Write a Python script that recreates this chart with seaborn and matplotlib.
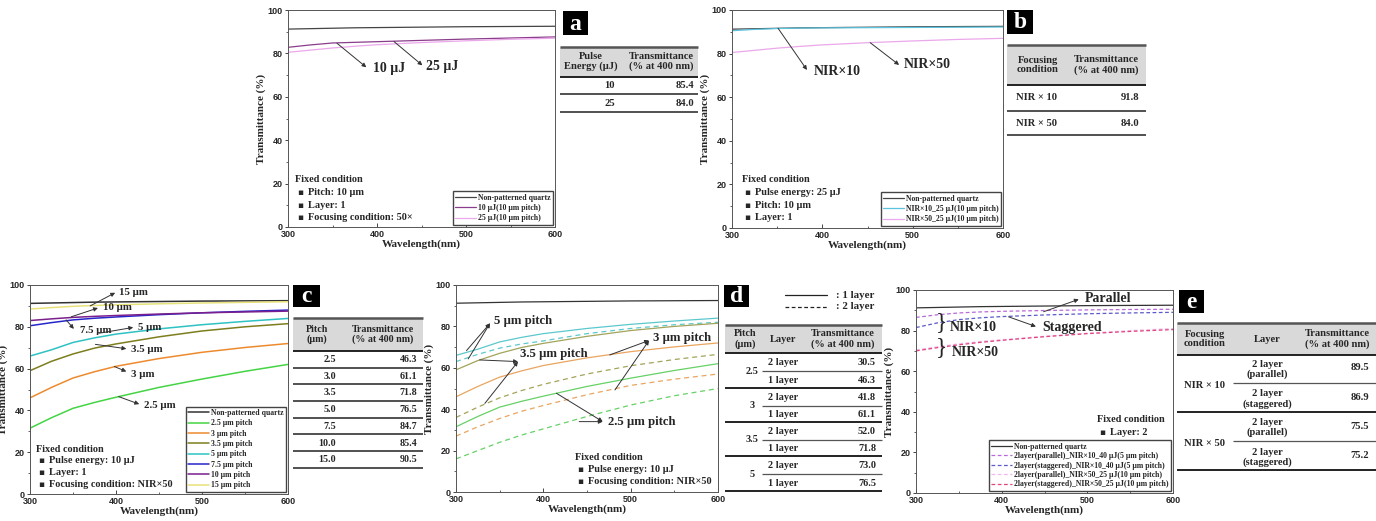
import matplotlib
matplotlib.use('Agg')
import matplotlib.pyplot as plt
import seaborn as sns
from matplotlib.patches import Rectangle
from matplotlib.ticker import MultipleLocator

sns.set_style('ticks')
plt.rcParams['font.family'] = ['Liberation Sans', 'DejaVu Sans']
plt.rcParams['font.weight'] = 'bold'
SERIF = ['Liberation Serif', 'DejaVu Serif', 'DejaVu Sans']

# ---------------- data ----------------
wl = [300, 325, 350, 375, 400, 450, 500, 550, 600]

quartz = [91.2, 91.4, 91.6, 91.8, 91.9, 92.1, 92.3, 92.4, 92.5]

# (a) pulse energy
a_10uj = [82.8, 83.9, 84.8, 85.1, 85.4, 86.0, 86.6, 87.1, 87.6]
a_25uj = [80.5, 81.5, 82.5, 83.3, 84.0, 85.0, 85.8, 86.5, 87.0]

# (b) focusing condition
b_nir10 = [90.5, 91.1, 91.5, 91.7, 91.8, 91.9, 92.0, 92.1, 92.2]
b_nir50 = [80.5, 81.5, 82.5, 83.3, 84.0, 85.0, 85.8, 86.5, 87.0]

# (c) pitch, 1 layer
c_2_5 = [31.5, 36.5, 41.0, 43.8, 46.3, 51.0, 55.0, 58.7, 62.0]
c_3 = [46.0, 51.0, 55.5, 58.5, 61.1, 64.8, 67.8, 70.1, 72.0]
c_3_5 = [59.0, 63.5, 67.0, 69.8, 71.8, 75.2, 78.0, 80.0, 81.5]
c_5 = [66.0, 69.0, 72.5, 74.7, 76.5, 79.0, 81.0, 82.6, 84.0]
c_7_5 = [80.5, 82.0, 83.3, 84.1, 84.7, 85.8, 86.7, 87.4, 88.0]
c_10 = [83.0, 83.8, 84.5, 85.0, 85.4, 86.1, 86.7, 87.1, 87.5]
c_15 = [88.5, 89.2, 89.8, 90.2, 90.5, 91.0, 91.4, 91.7, 92.0]

# (d) 2 layer
d2_2_5 = [16.0, 20.0, 24.0, 27.5, 30.5, 36.5, 42.0, 46.5, 50.0]
d2_3 = [27.0, 31.5, 35.5, 39.0, 41.8, 47.0, 51.5, 54.5, 57.0]
d2_3_5 = [36.0, 41.0, 45.5, 49.0, 52.0, 57.0, 61.0, 64.0, 66.5]
d2_5 = [63.0, 66.5, 69.5, 71.5, 73.0, 76.5, 79.0, 80.8, 82.0]

# (e) parallel / staggered
e_par10 = [86.5, 87.8, 88.7, 89.2, 89.5, 89.9, 90.2, 90.4, 90.5]
e_stg10 = [81.5, 83.8, 85.4, 86.3, 86.9, 87.7, 88.3, 88.7, 89.0]
e_par50 = [70.5, 72.0, 73.5, 74.6, 75.5, 77.2, 78.7, 80.0, 81.0]
e_stg50 = [70.0, 71.6, 73.0, 74.2, 75.2, 77.0, 78.5, 79.6, 80.5]

# table contents
tab_a_energy = ['10', '25']
tab_a_T = ['85.4', '84.0']
tab_b_cond = ['NIR × 10', 'NIR × 50']
tab_b_T = ['91.8', '84.0']
tab_c_pitch = ['2.5', '3.0', '3.5', '5.0', '7.5', '10.0', '15.0']
tab_c_T = ['46.3', '61.1', '71.8', '76.5', '84.7', '85.4', '90.5']
tab_d_pitch = ['2.5', '3', '3.5', '5']
tab_d_2layer = ['30.5', '41.8', '52.0', '73.0']
tab_d_1layer = ['46.3', '61.1', '71.8', '76.5']
tab_e_cond = ['NIR × 10', 'NIR × 50']
tab_e_layer = ['2 layer\n(parallel)', '2 layer\n(staggered)']
tab_e_T = ['89.5', '86.9', '75.5', '75.2']

# ---------------- figure ----------------
W, H = 1376, 521
fig = plt.figure(figsize=(W / 100, H / 100), dpi=100)


def rect(x0, y0, x1, y1):
    return [x0 / W, 1 - y1 / H, (x1 - x0) / W, (y1 - y0) / H]


def setup(ax):
    ax.set_xlim(300, 600)
    ax.set_ylim(0, 100)
    ax.set_xticks([300, 400, 500, 600])
    ax.set_yticks([0, 20, 40, 60, 80, 100])
    ax.xaxis.set_minor_locator(MultipleLocator(50))
    ax.yaxis.set_minor_locator(MultipleLocator(10))
    ax.tick_params(axis='x', which='major', direction='in', length=3, width=0.6, labelsize=6.5, pad=2)
    ax.tick_params(axis='x', which='minor', direction='in', length=1.5, width=0.5)
    ax.tick_params(axis='y', which='major', direction='out', length=2.5, width=0.6, labelsize=6.5, pad=1.5)
    ax.tick_params(axis='y', which='minor', direction='out', length=1.5, width=0.5)
    ax.set_xlabel('Wavelength(nm)', family=SERIF, fontsize=8, fontweight='bold', labelpad=0.5)
    ax.set_ylabel('Transmittance (%)', family=SERIF, fontsize=8, fontweight='bold', labelpad=1)
    for s in ax.spines.values():
        s.set_visible(True)
        s.set_linewidth(0.7)
        s.set_color('#555555')


def line(ax, y, color, label=None, ls='-', lw=0.9):
    sns.lineplot(x=wl, y=y, ax=ax, color=color, label=label, linestyle=ls, linewidth=lw,
                 legend=False)


def legend(ax, size=5.6, spacing=0.3):
    ax.legend(loc='lower right', prop=dict(family=SERIF, weight='bold', size=size), frameon=True,
              fancybox=False, edgecolor='#444444', framealpha=1, handlelength=2.7,
              borderpad=0.3, labelspacing=spacing, handletextpad=0.2, borderaxespad=0.3)


ARROW = dict(arrowstyle='-|>', color='#333333', lw=0.7, mutation_scale=6, shrinkA=0, shrinkB=0)


def note(ax, txt, tail, head, pos, size=10):
    ax.annotate('', xy=head, xytext=tail, arrowprops=ARROW)
    ax.text(pos[0], pos[1], txt, family=SERIF, fontweight='bold', fontsize=size, va='center', ha='left')


# ---- panel a ----
ax = fig.add_axes(rect(288, 10, 555, 227))
line(ax, quartz, '#444444', 'Non-patterned quartz')
line(ax, a_10uj, '#8B3D8B', '10 µJ(10 µm pitch)')
line(ax, a_25uj, '#EBA8EB', '25 µJ(10 µm pitch)')
setup(ax)
legend(ax)
note(ax, '10 µJ', (355, 84.7), (388, 73.6), (395, 73))
note(ax, '25 µJ', (419, 85.5), (451, 74.5), (455, 74))

# ---- panel b ----
ax = fig.add_axes(rect(732, 10, 1003, 228))
line(ax, quartz, '#444444', 'Non-patterned quartz')
line(ax, b_nir10, '#5BC3DE', 'NIR×10_25 µJ(10 µm pitch)')
line(ax, b_nir50, '#EBA8EB', 'NIR×50_25 µJ(10 µm pitch)')
setup(ax)
legend(ax)
note(ax, 'NIR×10', (351, 91.6), (383, 72.5), (390, 72))
note(ax, 'NIR×50', (453, 85.0), (485, 74.8), (490, 75))

# ---- panel c ----
ax = fig.add_axes(rect(30, 285, 288, 494))
line(ax, quartz, '#333333', 'Non-patterned quartz', lw=1.1)
line(ax, c_2_5, '#44D444', '2.5 µm pitch', lw=1.1)
line(ax, c_3, '#EE8A2E', '3 µm pitch', lw=1.1)
line(ax, c_3_5, '#7D7D1E', '3.5 µm pitch', lw=1.1)
line(ax, c_5, '#2EC2C2', '5 µm pitch', lw=1.1)
line(ax, c_7_5, '#2626CC', '7.5 µm pitch', lw=1.1)
line(ax, c_10, '#7A1F8C', '10 µm pitch', lw=1.1)
line(ax, c_15, '#E8E27A', '15 µm pitch', lw=1.1)
setup(ax)
legend(ax)
note(ax, '15 µm', (370, 90.0), (399, 96.3), (404, 96.2), 7.8)
note(ax, '10 µm', (348, 84.8), (379, 89.0), (385, 89.2), 7.8)
note(ax, '7.5 µm', (342, 83.3), (351, 79.0), (358, 78.3), 7.8)
note(ax, '5 µm', (380, 76.9), (420, 79.7), (426, 79.7), 7.8)
note(ax, '3.5 µm', (376, 71.6), (412, 69.5), (418, 68.9), 7.8)
note(ax, '3 µm', (398, 61.0), (412, 58.6), (418, 57.3), 7.8)
note(ax, '2.5 µm', (403, 46.6), (427, 43.0), (433, 42.2), 7.8)

# ---- panel d ----
ax = fig.add_axes(rect(456, 285, 718, 492))
DASH = (0, (4, 3))
line(ax, quartz, '#333333')
line(ax, c_5, '#5CC8CC')
line(ax, d2_5, '#5CC8CC', ls=DASH)
line(ax, c_3_5, '#A3A35A')
line(ax, d2_3_5, '#A3A35A', ls=DASH)
line(ax, c_3, '#EAA560')
line(ax, d2_3, '#EAA560', ls=DASH)
line(ax, c_2_5, '#66D166')
line(ax, d2_2_5, '#66D166', ls=DASH)
setup(ax)
for tail in [(312, 68.3), (314, 64.3)]:
    ax.annotate('', xy=(339, 81.5), xytext=tail, arrowprops=ARROW)
ax.text(344, 82.6, '5 µm pitch', family=SERIF, fontweight='bold', fontsize=9.2, va='center')
for tail in [(327, 63.8), (333, 42.8)]:
    ax.annotate('', xy=(371, 63.0), xytext=tail, arrowprops=ARROW)
ax.text(373, 66.5, '3.5 µm pitch', family=SERIF, fontweight='bold', fontsize=9.2, va='center')
for tail in [(476, 66.2), (482, 49.3)]:
    ax.annotate('', xy=(521, 73.2), xytext=tail, arrowprops=ARROW)
ax.text(526, 74.5, '3 µm pitch', family=SERIF, fontweight='bold', fontsize=9.2, va='center')
for tail in [(415, 47.7), (441, 34.0)]:
    ax.annotate('', xy=(468, 34.0), xytext=tail, arrowprops=ARROW)
ax.text(474, 34.0, '2.5 µm pitch', family=SERIF, fontweight='bold', fontsize=9.2, va='center')

# ---- panel e ----
ax = fig.add_axes(rect(916, 290, 1173, 493))
ED = (0, (3, 2))
line(ax, quartz, '#333333', 'Non-patterned quartz')
line(ax, e_par10, '#B86AD8', '2layer(parallel)_NIR×10_40 µJ(5 µm pitch)', ls=ED)
line(ax, e_stg10, '#5A5AC8', '2layer(staggered)_NIR×10_40 µJ(5 µm pitch)', ls=ED)
line(ax, e_par50, '#F2B8EC', '2layer(parallel)_NIR×50_25 µJ(10 µm pitch)', ls=ED)
line(ax, e_stg50, '#E2457E', '2layer(staggered)_NIR×50_25 µJ(10 µm pitch)', ls=ED)
setup(ax)
legend(ax, spacing=0.18)
note(ax, 'Parallel', (449, 89.3), (490, 95.4), (497, 95.9), 10)
note(ax, 'Staggered', (408, 86.8), (440, 82.0), (447, 81.4), 10)
ax.text(323, 84.0, '}', family=SERIF, fontsize=17, fontweight='normal', va='center', ha='left')
ax.text(323, 71.5, '}', family=SERIF, fontsize=17, fontweight='normal', va='center', ha='left')
ax.text(340, 81.5, 'NIR×10', family=SERIF, fontweight='bold', fontsize=10, va='center')
ax.text(342, 69.0, 'NIR×50', family=SERIF, fontweight='bold', fontsize=10, va='center')

# ---------------- overlay in pixel coordinates: tables, panel letters, notes ----------------
ov = fig.add_axes([0, 0, 1, 1])
ov.set_xlim(0, W)
ov.set_ylim(H, 0)
ov.axis('off')
ov.patch.set_alpha(0)


def t(x, y, s, size=7.6, ha='center', va='center', **kw):
    ov.text(x, y, s, family=SERIF, fontweight='bold', fontsize=size, ha=ha, va=va, **kw)


def hl(x0, x1, y, lw=1.2, c='#333333'):
    ov.plot([x0, x1], [y, y], color=c, lw=lw, solid_capstyle='butt')


def letter(x0, y0, x1, y1, s):
    ov.add_patch(Rectangle((x0, y0), x1 - x0, y1 - y0, fc='black', ec='none'))
    t((x0 + x1) / 2, (y0 + y1) / 2 + 1, s, size=17, color='white')


def header(x0, x1, y0, y1):
    ov.add_patch(Rectangle((x0, y0), x1 - x0, y1 - y0, fc='#D9D9D9', ec='none'))
    hl(x0, x1, y0, 1.8, '#555555')
    hl(x0, x1, y1, 1.4, '#222222')


def fixed(x, y, items, step=12.5, size=7.4):
    t(x, y, 'Fixed condition', size=size, ha='left')
    for i, it in enumerate(items):
        yy = y + step * (i + 1)
        ov.text(x + 2, yy, '▪', family=['DejaVu Sans'], fontsize=size - 1, ha='left', va='center')
        t(x + 13, yy, it, size=size, ha='left')


# table a
letter(563, 11, 588, 35, 'a')
header(560, 698, 46.5, 76.5)
t(591, 61.5, 'Pulse\nEnergy (µJ)', linespacing=1.1)
t(661, 61.5, 'Transmittance\n(% at 400 nm)', linespacing=1.1)
for i in range(2):
    yc = 85.5 + 18 * i
    t(615, yc, tab_a_energy[i], ha='right')
    t(694, yc, tab_a_T[i], ha='right')
    hl(560, 698, 94.3 + 18 * i, 1.2)
fixed(295, 180, ['Pitch: 10 µm', 'Layer: 1', 'Focusing condition: 50×'])

# table b
letter(1007, 10, 1033, 34, 'b')
header(1007, 1146, 45, 85)
t(1038, 65, 'Focusing\ncondition', linespacing=1.1)
t(1106, 65, 'Transmittance\n(% at 400 nm)', linespacing=1.1)
for i in range(2):
    yc = 98 + 25 * i
    t(1016, yc, tab_b_cond[i], ha='left')
    t(1139, yc, tab_b_T[i], ha='right')
    hl(1007, 1146, 110.7 + 24.5 * i, 1.2)
fixed(742, 180, ['Pulse energy: 25 µJ', 'Pitch: 10 µm', 'Layer: 1'])

# table c
letter(293, 285, 320, 307, 'c')
header(293, 423, 318, 351)
t(317, 334.5, 'Pitch\n(µm)', size=7.2, linespacing=1.1)
t(383, 334.5, 'Transmittance\n(% at 400 nm)', size=7.2, linespacing=1.1)
for i in range(7):
    yc = 359.5 + 16.7 * i
    t(336, yc, tab_c_pitch[i], size=7.2, ha='right')
    t(417, yc, tab_c_T[i], size=7.2, ha='right')
    hl(293, 423, 367.7 + 16.67 * i, 1.2)
fixed(36, 449, ['Pulse energy: 10 µJ', 'Layer: 1', 'Focusing condition: NIR×50'], step=11.7)

# table d + line-style key
letter(724, 285, 749, 307, 'd')
ov.plot([785, 827], [295, 295], color='#222222', lw=0.9)
ov.plot([785, 827], [306.7, 306.7], color='#222222', lw=0.9, ls=(0, (3, 2)))
t(836, 295, ': 1 layer', size=7.8, ha='left')
t(836, 306.7, ': 2 layer', size=7.8, ha='left')
header(725, 882, 325, 353.3)
t(745, 339, 'Pitch\n(µm)', size=7.4, linespacing=1.1)
t(783, 339, 'Layer', size=7.4)
t(843, 339, 'Transmittance\n(% at 400 nm)', size=7.4, linespacing=1.1)
for i in range(4):
    y0 = 353.3 + 34.3 * i
    t(752, y0 + 18, tab_d_pitch[i], size=7.4)
    t(783, y0 + 9.5, '2 layer', size=7.4)
    t(783, y0 + 27, '1 layer', size=7.4)
    t(876, y0 + 9.5, tab_d_2layer[i], size=7.4, ha='right')
    t(876, y0 + 27, tab_d_1layer[i], size=7.4, ha='right')
    hl(762, 882, y0 + 18, 0.9, '#555555')
    hl(725, 882, y0 + 34.3, 1.4, '#222222')
fixed(575, 457.7, ['Pulse energy: 10 µJ', 'Focusing condition: NIR×50'], step=11.7)

# table e
letter(1179, 290, 1204, 313, 'e')
header(1177, 1376, 322.7, 355)
t(1205, 339, 'Focusing\ncondition', linespacing=1.1)
t(1267, 339, 'Layer')
t(1337, 339, 'Transmittance\n(% at 400 nm)', linespacing=1.1)
for i in range(2):
    y0 = 355 + 58.3 * i
    t(1205, y0 + 30, tab_e_cond[i])
    for j in range(2):
        yc = y0 + 14.5 + 29.5 * j
        t(1267, yc, tab_e_layer[j], linespacing=1.1)
        t(1369, yc - 1.5, tab_e_T[2 * i + j], ha='right')
    hl(1233, 1376, y0 + 28, 0.9, '#555555')
    hl(1177, 1376, y0 + 57, 1.4, '#222222')
fixed(1097, 420, ['Layer: 2'], step=12.5)

fig.savefig('out.png', dpi=100)
